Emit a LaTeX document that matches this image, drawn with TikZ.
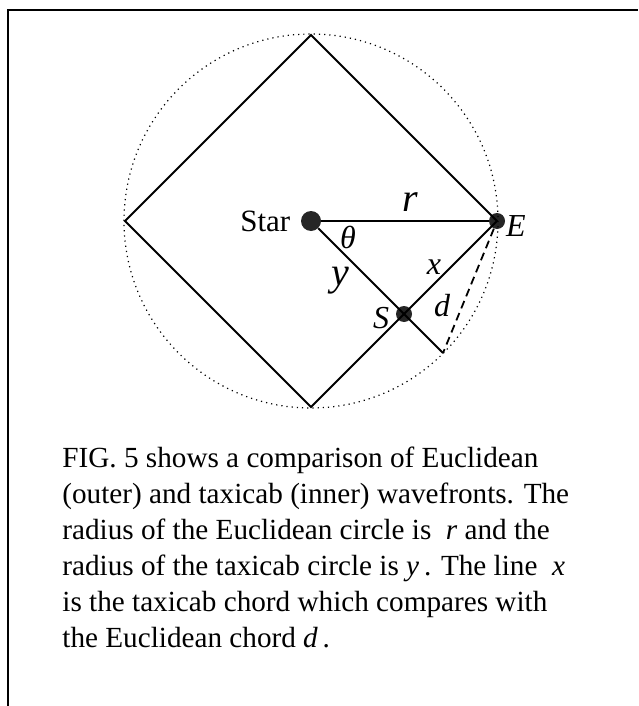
\documentclass[tikz,border=0pt]{standalone}
\usepackage{fontspec}
\setmainfont{Liberation Serif}
\usetikzlibrary{positioning}

\begin{document}
\begin{tikzpicture}[x=0.5pt, y=-0.5pt,
    dot/.style={circle, fill=black!85, inner sep=0pt, minimum size=#1},
    sym/.style={font=\fontsize{16}{18}\selectfont\itshape, inner sep=1pt},
    bigsym/.style={font=\fontsize{20}{22}\selectfont\itshape, inner sep=1pt},
    edge/.style={line width=1pt}]
    \useasboundingbox (0,0) rectangle (638,706);

    % Frame
    \draw [line width=1.1pt] (8,706) -- (8,10) -- (638,10);

    % Points
    \coordinate (top) at (311,35);
    \coordinate (lft) at (125,221);
    \coordinate (bot) at (311,407);
    \coordinate (P) at (443,353);
    \node [dot=10pt] (star) at (311,221) {};
    \node [dot=8pt] (E) at (497,221) {};
    \node [dot=8pt] (S) at (404,314) {};

    % Circles
    \draw [dotted, line width=0.6pt] (star.center) circle (187);
    \draw [edge] (top) -- (E.center) -- (bot) -- (lft) -- cycle;

    % Lines
    \draw [edge] (star) -- (E);
    \draw [edge] (star) -- (P);
    \draw [line width=0.9pt, dash pattern=on 4pt off 2.5pt] (E) -- (P);

    % Labels
    \node [left=5pt of star, font=\fontsize{15.5}{18}\selectfont, inner sep=0pt] (starlabel) {Star};
    \node [bigsym] (rlabel) at (410,202) {r};
    \node [sym] (thlabel) at (348,237) {θ};
    \node [bigsym] (ylabel) at (340,281) {y};
    \node [sym] (xlabel) at (434,267) {x};
    \node [sym] (dlabel) at (442,306) {d};
    \node [sym] (slabel) at (381,318) {S};
    \node [sym] (elabel) at (516,226) {E};

    % Caption
    \node [anchor=north west, align=left, inner sep=0pt,
           font=\fontsize{14.6}{18}\selectfont] (caption) at (62,447)
    {FIG. 5 shows a comparison of Euclidean\\
     (outer) and taxicab (inner) wavefronts. The\\
     radius of the Euclidean circle is~ \textit{r} and the\\
     radius of the taxicab circle is \textit{y}\,. The line~ \textit{x}\\
     is the taxicab chord which compares with\\
     the Euclidean chord \textit{d}\,.};
\end{tikzpicture}
\end{document}
